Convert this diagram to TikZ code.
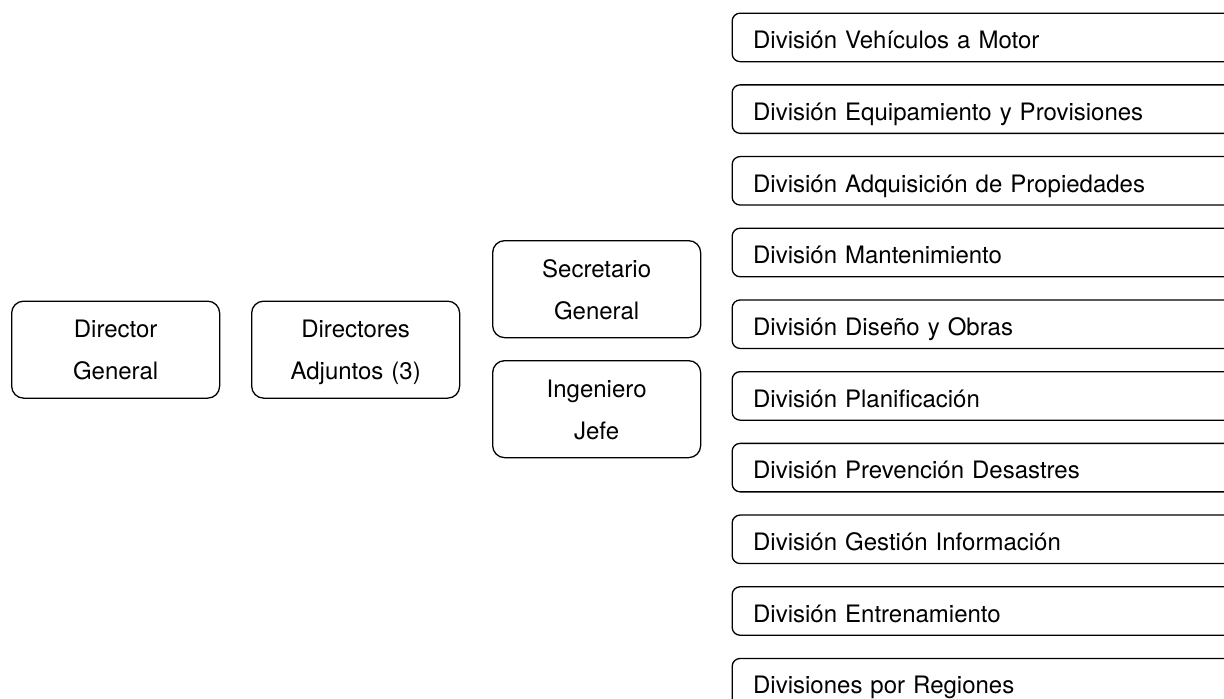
\documentclass[tikz,border=0pt]{standalone}
\usepackage{fontspec}
\setmainfont{TeX Gyre Heros}
\begin{document}
\begin{tikzpicture}[x=1pt,y=-1pt,
  every node/.style={font=\fontsize{24}{42}\selectfont},
  post/.style={draw, line width=1.3pt, rounded corners=12pt, inner sep=0pt,
    text width=208pt, align=center, text height=36.5pt, text depth=60.5pt,
    anchor=north west},
  division/.style={draw, line width=1.3pt, rounded corners=8pt,
    inner xsep=21pt, inner ysep=0pt, text width=560pt, align=left,
    text height=35.5pt, text depth=13pt, anchor=north west}]
\useasboundingbox (0,0) rectangle (1224,699);
\clip (0,0) rectangle (1224,699);

% senior posts
\node[post] (dg) at (11,300.5)  {Director\\General};
\node[post] (da) at (251,300.5) {Directores\\Adjuntos (3)};
\node[post] (sg) at (492,240)   {Secretario\\General};
\node[post] (ij) at (492,360)   {Ingeniero\\Jefe};

% divisions, running off the right and bottom edges
\foreach \t [count=\i from 0] in {
  División Vehículos a Motor,
  División Equipamiento y Provisiones,
  División Adquisición de Propiedades,
  División Mantenimiento,
  División Diseño y Obras,
  División Planificación,
  División Prevención Desastres,
  División Gestión Información,
  División Entrenamiento,
  Divisiones por Regiones}
  \node[division] (div\i) at (731.5,{12.5+71.7*\i}) {\t};
\end{tikzpicture}
\end{document}
